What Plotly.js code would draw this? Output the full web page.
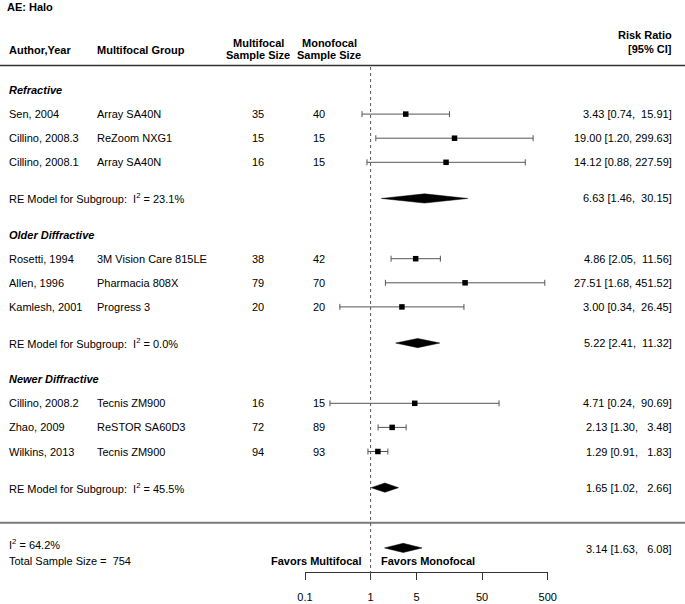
<!DOCTYPE html>
<html>
<head>
<meta charset="utf-8">
<script src="https://cdn.plot.ly/plotly-3.0.1.min.js"></script>
<style>html,body{margin:0;padding:0;background:#fff;}#chart{width:685px;height:604px;}</style>
</head>
<body>
<div id="chart"></div>
<script>
// ---------- data ----------
const groupNames = ['Refractive', 'Older Diffractive', 'Newer Diffractive'];
const groupI2 = ['23.1', '0.0', '45.5'];
const groupRR = [6.63, 5.22, 1.65];
const groupLo = [1.46, 2.41, 1.02];
const groupHi = [30.15, 11.32, 2.66];

const studyAuthors = ['Sen, 2004', 'Cillino, 2008.3', 'Cillino, 2008.1',
  'Rosetti, 1994', 'Allen, 1996', 'Kamlesh, 2001',
  'Cillino, 2008.2', 'Zhao, 2009', 'Wilkins, 2013'];
const studyGroupIdx = [0, 0, 0, 1, 1, 1, 2, 2, 2];
const studyLens = ['Array SA40N', 'ReZoom NXG1', 'Array SA40N',
  '3M Vision Care 815LE', 'Pharmacia 808X', 'Progress 3',
  'Tecnis ZM900', 'ReSTOR SA60D3', 'Tecnis ZM900'];
const multiN = [35, 15, 16, 38, 79, 20, 16, 72, 94];
const monoN = [40, 15, 15, 42, 70, 20, 15, 89, 93];
const studyRR = [3.43, 19.00, 14.12, 4.86, 27.51, 3.00, 4.71, 2.13, 1.29];
const studyLo = [0.74, 1.20, 0.88, 2.05, 1.68, 0.34, 0.24, 1.30, 0.91];
const studyHi = [15.91, 299.63, 227.59, 11.56, 451.52, 26.45, 90.69, 3.48, 1.83];

const overallRR = 3.14, overallLo = 1.63, overallHi = 6.08;
const overallI2 = '64.2';
const totalSampleSize = 754;

const tickVals = [0.1, 1, 5, 50, 500];
const tickText = ['0.1', '1', '5', '50', '500'];

// ---------- layout constants ----------
const W = 685, H = 604;
const axisY = 572;               // pixel of x-axis line
const rowPx = 24.1, firstRowY = 90;
const xDomPx = [305, 547.7];
const xRange = [Math.log10(0.1), Math.log10(500)];
const FONT = '"Liberation Sans", Arial, Helvetica, sans-serif';
const black = '#000000';

const rowY = r => firstRowY + rowPx * r;
const px2paper = px => px / W;
const val2paper = v => {
  const f = (Math.log10(v) - xRange[0]) / (xRange[1] - xRange[0]);
  return (xDomPx[0] + f * (xDomPx[1] - xDomPx[0])) / W;
};
const pyPaper = py => (axisY - py) / axisY;

// ---------- row assignment ----------
const groupHeaderY = [], groupREY = [], studyY = new Array(studyAuthors.length);
let r = 0;
groupNames.forEach((g, gi) => {
  groupHeaderY.push(rowY(r)); r += 1;
  let last = r - 1;
  studyAuthors.forEach((a, i) => {
    if (studyGroupIdx[i] === gi) { studyY[i] = rowY(r); last = r; r += 1; }
  });
  const re = last + 1.5;
  groupREY.push(rowY(re));
  r = re + 1.5;
});
const separatorY = rowY(r) - 1;
const overallY = rowY(r + 1);

// ---------- formatting ----------
const NB = '\u00a0';
const padL = (s, w) => NB.repeat(Math.max(0, w - s.length)) + s;
const allHi = studyHi.concat(groupHi, [overallHi]).map(v => v.toFixed(2));
const allLo = studyLo.concat(groupLo, [overallLo]).map(v => v.toFixed(2));
const hiW = Math.max(...allHi.map(s => s.length));
const loW = Math.max(...allLo.map(s => s.length));
const fmtCI = (e, l, h) => e.toFixed(2) + ' [' + padL(l.toFixed(2), loW) + ',' + NB + padL(h.toFixed(2), hiW) + ']';

// ---------- traces ----------
const traces = [];
traces.push({
  type: 'scatter', mode: 'markers', x: studyRR, y: studyY,
  marker: { symbol: 'square', size: 5.5, color: black },
  error_x: {
    type: 'data', symmetric: false,
    array: studyRR.map((v, i) => studyHi[i] - v),
    arrayminus: studyRR.map((v, i) => v - studyLo[i]),
    color: '#555555', thickness: 1, width: 3
  },
  hoverinfo: 'skip', showlegend: false
});
const DH = 4.6;
function diamond(e, l, h, y) {
  traces.push({
    type: 'scatter', mode: 'lines', x: [l, e, h, e, l], y: [y, y - DH, y, y + DH, y],
    fill: 'toself', fillcolor: black, line: { color: black, width: 0.5 },
    hoverinfo: 'skip', showlegend: false
  });
}
groupRR.forEach((e, i) => diamond(e, groupLo[i], groupHi[i], groupREY[i]));
diamond(overallRR, overallLo, overallHi, overallY);

// ---------- annotations ----------
const ann = [];
function txt(xpx, y, text, anchor, opts) {
  ann.push(Object.assign({
    xref: 'paper', yref: 'y', x: px2paper(xpx), y: y, text: text, showarrow: false,
    xanchor: anchor, yanchor: 'middle', borderpad: 0,
    font: { family: FONT, size: 11, color: black }
  }, opts || {}));
}
const X_AUTH = 8, X_LENS = 95.5, X_MN = 257.5, X_MON = 318.5, X_RR = 672.5;

txt(5.5, 7, '<b>AE: Halo</b>', 'left');
txt(X_AUTH, 49.5, '<b>Author,Year</b>', 'left');
txt(X_LENS, 49.5, '<b>Multifocal Group</b>', 'left');
txt(258, 42.5, '<b>Multifocal</b>', 'center');
txt(258, 54.5, '<b>Sample Size</b>', 'center');
txt(329, 42.5, '<b>Monofocal</b>', 'center');
txt(329, 54.5, '<b>Sample Size</b>', 'center');
txt(X_RR, 35, '<b>Risk Ratio</b>', 'right');
txt(X_RR, 48.5, '<b>[95% CI]</b>', 'right');

groupNames.forEach((g, gi) => {
  txt(X_AUTH, groupHeaderY[gi], '<b><i>' + g + '</i></b>', 'left');
  txt(X_AUTH, groupREY[gi], 'RE Model for Subgroup:' + NB + NB + 'I<sup>2</sup> = ' + groupI2[gi] + '%', 'left');
  txt(X_RR, groupREY[gi], fmtCI(groupRR[gi], groupLo[gi], groupHi[gi]), 'right');
});
studyAuthors.forEach((a, i) => {
  const y = studyY[i];
  txt(X_AUTH, y, a, 'left');
  txt(X_LENS, y, studyLens[i], 'left');
  txt(X_MN, y, String(multiN[i]), 'center');
  txt(X_MON, y, String(monoN[i]), 'center');
  txt(X_RR, y, fmtCI(studyRR[i], studyLo[i], studyHi[i]), 'right');
});
txt(X_AUTH, overallY - 4, 'I<sup>2</sup> = ' + overallI2 + '%', 'left');
txt(X_AUTH, overallY + 13, 'Total Sample Size =' + NB + NB + totalSampleSize, 'left');
txt(X_RR, overallY + 1, fmtCI(overallRR, overallLo, overallHi), 'right');
txt(361.5, overallY + 13.5, '<b>Favors Multifocal</b>', 'right');
txt(379.5, overallY + 13.5, '<b>Favors Monofocal</b>', 'left');

// ---------- shapes ----------
const shapes = [
  { type: 'line', xref: 'paper', yref: 'paper', x0: 0, x1: 1, y0: pyPaper(65.5), y1: pyPaper(65.5),
    line: { color: '#333333', width: 1.5 } },
  { type: 'line', xref: 'paper', yref: 'paper', x0: 0, x1: 1, y0: pyPaper(separatorY), y1: pyPaper(separatorY),
    line: { color: '#7a7a7a', width: 2 } },
  { type: 'line', xref: 'paper', yref: 'paper', x0: val2paper(1), x1: val2paper(1),
    y0: pyPaper(67), y1: pyPaper(579.5),
    line: { color: '#555555', width: 1, dash: 'dot' } }
];

const layout = {
  width: W, height: H,
  margin: { l: 0, r: 0, t: 0, b: H - axisY, pad: 0 },
  paper_bgcolor: '#ffffff', plot_bgcolor: 'rgba(0,0,0,0)',
  font: { family: FONT, size: 11, color: black },
  showlegend: false,
  xaxis: {
    type: 'log', range: xRange, domain: [xDomPx[0] / W, xDomPx[1] / W],
    showgrid: false, zeroline: false, showline: true, linecolor: '#333333', linewidth: 1,
    ticks: 'outside', ticklen: 7, tickwidth: 1, tickcolor: '#333333',
    tickmode: 'array', tickvals: tickVals, ticktext: tickText,
    tickfont: { family: FONT, size: 11, color: black }, ticklabelstandoff: 8,
    fixedrange: true
  },
  yaxis: {
    range: [axisY, 0], showgrid: false, zeroline: false, showline: false,
    showticklabels: false, ticks: '', fixedrange: true
  },
  annotations: ann,
  shapes: shapes
};

Plotly.newPlot('chart', traces, layout, { staticPlot: true, displayModeBar: false });
</script>
</body>
</html>
